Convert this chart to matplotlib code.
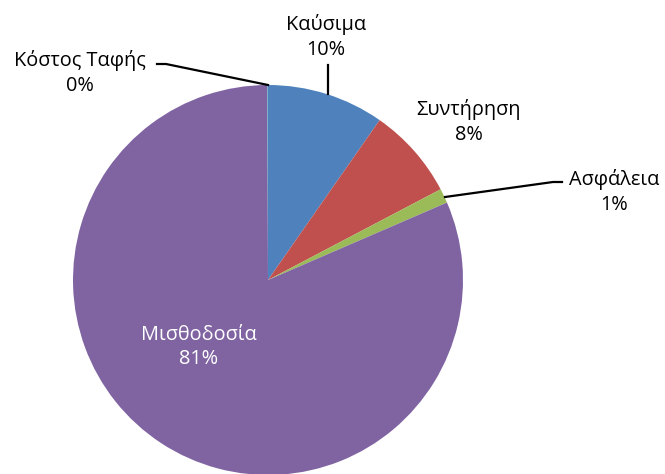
import numpy as np
import matplotlib.pyplot as plt

# slice data, clockwise from 12 o'clock
categories = ['Καύσιμα', 'Συντήρηση', 'Ασφάλεια', 'Μισθοδοσία', 'Κόστος Ταφής']
values = [9.7, 7.6, 1.2, 81.45, 0.05]
pct_labels = ['10%', '8%', '1%', '81%', '0%']
colors = ['#4F81BD', '#C0504D', '#9BBB59', '#8064A2', '#4BACC6']

W, H = 665, 474
cx, cy, R = 268, 280, 195


def px(x, y):
    # pixel position -> pie data coords (radius 1)
    return (x - cx) / R, (cy - y) / R


fig = plt.figure(figsize=(W / 100, H / 100), dpi=100)
ax = fig.add_axes([(cx - R) / W, (H - cy - R) / H, 2 * R / W, 2 * R / H])
ax.pie(values, colors=colors, startangle=90, counterclock=False, radius=1,
       wedgeprops=dict(linewidth=0))
ax.set_xlim(-1, 1)
ax.set_ylim(-1, 1)
ax.set_aspect('equal')
ax.axis('off')

font = dict(family=['Open Sans', 'DejaVu Sans'], fontsize=14.3, ha='center', va='center',
            linespacing=1.3, clip_on=False)

# label positions in pixels (text centre)
label_pos = {
    'Καύσιμα': (326, 37),
    'Συντήρηση': (469, 122),
    'Ασφάλεια': (614, 192),
    'Μισθοδοσία': (199, 347),
    'Κόστος Ταφής': (80, 73),
}
for name, pct in zip(categories, pct_labels):
    x, y = px(*label_pos[name])
    col = 'white' if name == 'Μισθοδοσία' else 'black'
    ax.text(x, y, f'{name}\n{pct}', color=col, **font)

# leader lines
leaders = [
    [(328, 65), (328, 94)],
    [(157, 64), (166, 64), (268, 85)],
    [(562, 182), (553, 182), (445, 197)],
]
for pts in leaders:
    xs, ys = zip(*[px(*p) for p in pts])
    ax.plot(xs, ys, color='black', linewidth=1.6, clip_on=False)

fig.savefig('out.png', dpi=100)
